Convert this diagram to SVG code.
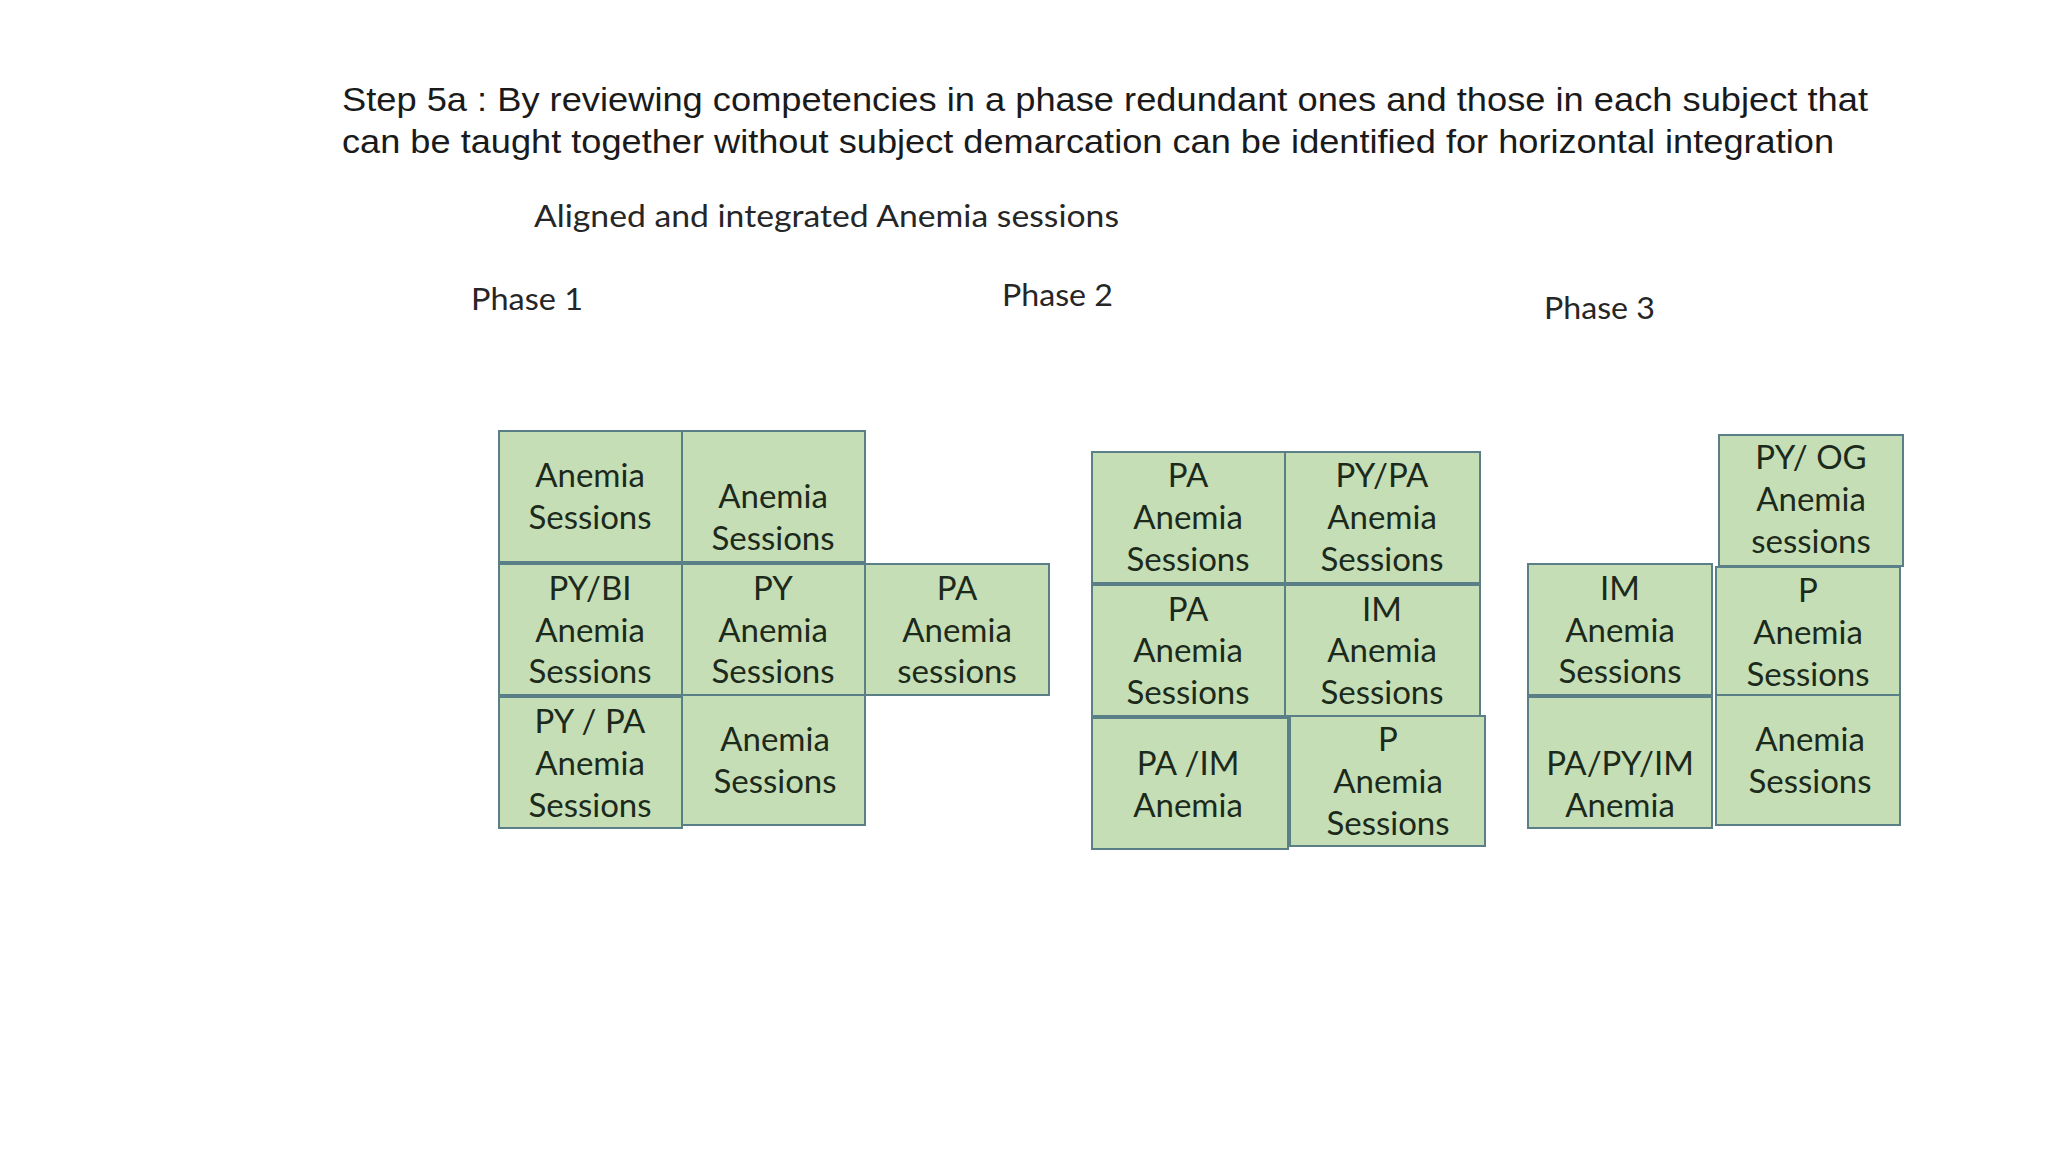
<svg xmlns="http://www.w3.org/2000/svg" width="2048" height="1152" viewBox="0 0 2048 1152">
<style>
.title{font-family:"Liberation Sans",Arial,sans-serif;font-size:34px;fill:#1a1a1a}
.sub{font-family:Lato,"Open Sans",sans-serif;font-size:30px;fill:#262626}
.box{fill:#C6DEB5;stroke:#5B7F86;stroke-width:2}
.lbl{font-family:Lato,"Open Sans",sans-serif;font-size:33px;fill:#1c2a1c;text-anchor:middle}
</style>
<rect width="2048" height="1152" fill="#ffffff"/>
<text class="title" x="342" y="111" textLength="1526" lengthAdjust="spacingAndGlyphs">Step 5a : By reviewing competencies in a phase redundant ones and those in each subject that</text>
<text class="title" x="342" y="153" textLength="1492" lengthAdjust="spacingAndGlyphs">can be taught together without subject demarcation can be identified for horizontal integration</text>
<text class="sub" x="534" y="227" textLength="585" lengthAdjust="spacingAndGlyphs">Aligned and integrated Anemia sessions</text>
<text class="sub" x="471" y="310" textLength="112" lengthAdjust="spacingAndGlyphs">Phase 1</text>
<text class="sub" x="1002" y="306" textLength="111" lengthAdjust="spacingAndGlyphs">Phase 2</text>
<text class="sub" x="1544" y="319" textLength="111" lengthAdjust="spacingAndGlyphs">Phase 3</text>

<g id="p1-a"><rect class="box" x="499" y="431" width="183" height="131"/><text class="lbl" x="590" y="487">Anemia</text><text class="lbl" x="590" y="529">Sessions</text></g>
<g id="p1-b"><rect class="box" x="682" y="431" width="183" height="131"/><text class="lbl" x="773" y="508">Anemia</text><text class="lbl" x="773" y="550">Sessions</text></g>
<g id="p1-c"><rect class="box" x="499" y="564" width="183" height="131"/><text class="lbl" x="590" y="600">PY/BI</text><text class="lbl" x="590" y="642">Anemia</text><text class="lbl" x="590" y="683">Sessions</text></g>
<g id="p1-d"><rect class="box" x="682" y="564" width="183" height="131"/><text class="lbl" x="773" y="600">PY</text><text class="lbl" x="773" y="642">Anemia</text><text class="lbl" x="773" y="683">Sessions</text></g>
<g id="p1-e"><rect class="box" x="865" y="564" width="184" height="131"/><text class="lbl" x="957" y="600">PA</text><text class="lbl" x="957" y="642">Anemia</text><text class="lbl" x="957" y="683">sessions</text></g>
<g id="p1-f"><rect class="box" x="499" y="697" width="183" height="131"/><text class="lbl" x="590" y="733">PY / PA</text><text class="lbl" x="590" y="775">Anemia</text><text class="lbl" x="590" y="817">Sessions</text></g>
<g id="p1-g"><rect class="box" x="682" y="695" width="183" height="130"/><text class="lbl" x="775" y="751">Anemia</text><text class="lbl" x="775" y="793">Sessions</text></g>

<g id="p2-a"><rect class="box" x="1092" y="452" width="193" height="131"/><text class="lbl" x="1188" y="487">PA</text><text class="lbl" x="1188" y="529">Anemia</text><text class="lbl" x="1188" y="571">Sessions</text></g>
<g id="p2-b"><rect class="box" x="1285" y="452" width="195" height="131"/><text class="lbl" x="1382" y="487">PY/PA</text><text class="lbl" x="1382" y="529">Anemia</text><text class="lbl" x="1382" y="571">Sessions</text></g>
<g id="p2-c"><rect class="box" x="1092" y="585" width="193" height="131"/><text class="lbl" x="1188" y="621">PA</text><text class="lbl" x="1188" y="662">Anemia</text><text class="lbl" x="1188" y="704">Sessions</text></g>
<g id="p2-d"><rect class="box" x="1285" y="585" width="195" height="131"/><text class="lbl" x="1382" y="621">IM</text><text class="lbl" x="1382" y="662">Anemia</text><text class="lbl" x="1382" y="704">Sessions</text></g>
<g id="p2-e"><rect class="box" x="1092" y="718" width="196" height="131"/><text class="lbl" x="1188" y="775">PA /IM</text><text class="lbl" x="1188" y="817">Anemia</text></g>
<g id="p2-f"><rect class="box" x="1290" y="716" width="195" height="130"/><text class="lbl" x="1388" y="751">P</text><text class="lbl" x="1388" y="793">Anemia</text><text class="lbl" x="1388" y="835">Sessions</text></g>

<g id="p3-a"><rect class="box" x="1719" y="435" width="184" height="131"/><text class="lbl" x="1811" y="469">PY/ OG</text><text class="lbl" x="1811" y="511">Anemia</text><text class="lbl" x="1811" y="553">sessions</text></g>
<g id="p3-b"><rect class="box" x="1528" y="564" width="184" height="131"/><text class="lbl" x="1620" y="600">IM</text><text class="lbl" x="1620" y="642">Anemia</text><text class="lbl" x="1620" y="683">Sessions</text></g>
<g id="p3-c"><rect class="box" x="1716" y="567" width="184" height="128"/><text class="lbl" x="1808" y="602">P</text><text class="lbl" x="1808" y="644">Anemia</text><text class="lbl" x="1808" y="686">Sessions</text></g>
<g id="p3-d"><rect class="box" x="1528" y="697" width="184" height="131"/><text class="lbl" x="1620" y="775">PA/PY/IM</text><text class="lbl" x="1620" y="817">Anemia</text></g>
<g id="p3-e"><rect class="box" x="1716" y="695" width="184" height="130"/><text class="lbl" x="1810" y="751">Anemia</text><text class="lbl" x="1810" y="793">Sessions</text></g>
<g id="connectors"/>
</svg>
